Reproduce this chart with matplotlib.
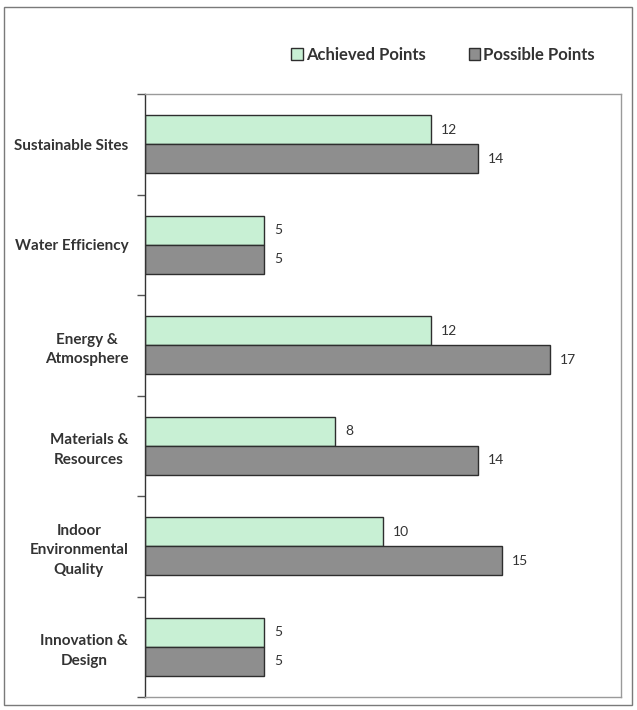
import matplotlib
matplotlib.use("Agg")
import matplotlib.pyplot as plt
from matplotlib.patches import Rectangle
import numpy as np

plt.rcParams['font.family'] = ['Lato', 'DejaVu Sans']

categories = ["Sustainable Sites", "Water Efficiency", "Energy &\nAtmosphere",
              "Materials &\nResources", "Indoor\nEnvironmental\nQuality",
              "Innovation &\nDesign"]
achieved = [12, 5, 12, 8, 10, 5]
possible = [14, 5, 17, 14, 15, 5]

GREEN = "#c8f0d4"
GRAY = "#8e8e8e"
EDGE = "#2e2e2e"

fig = plt.figure(figsize=(6.37, 7.10), dpi=100)
W, H = 637, 710

# outer frame around the whole chart
fig.patches.append(Rectangle((4 / W, 1 - 705 / H), 628 / W, 698 / H,
                             transform=fig.transFigure, fill=False,
                             edgecolor="#7a7a7a", linewidth=1.0))

ax = fig.add_axes([145 / W, 1 - 697 / H, 476 / W, 603 / H])

y = np.arange(len(categories))
bh = 0.29
ax.barh(y - bh / 2, achieved, height=bh, color=GREEN, edgecolor=EDGE,
        linewidth=1.0, label="Achieved Points")
ax.barh(y + bh / 2, possible, height=bh, color=GRAY, edgecolor=EDGE,
        linewidth=1.0, label="Possible Points")

for i, (a, p) in enumerate(zip(achieved, possible)):
    ax.text(a + 0.42, i - bh / 2, str(a), va="center", ha="left",
            fontsize=10, color="#333333")
    ax.text(p + 0.42, i + bh / 2, str(p), va="center", ha="left",
            fontsize=10, color="#333333")

ax.set_xlim(0, 20)
ax.set_ylim(len(categories) - 0.5, -0.5)
ax.set_xticks([])

# category labels sit between boundary ticks
ax.set_yticks(y)
ax.set_yticklabels(categories, fontsize=11, fontweight="bold",
                   color="#333333", multialignment="center", linespacing=1.5)
ax.tick_params(axis="y", which="major", length=0, pad=12)
ax.set_yticks(np.arange(-0.5, len(categories)), minor=True)
ax.tick_params(axis="y", which="minor", length=6, width=1.0, color="#555555")

for side in ("top", "right", "bottom"):
    ax.spines[side].set_color("#9a9a9a")
    ax.spines[side].set_linewidth(1.0)
ax.spines["left"].set_color("#333333")
ax.spines["left"].set_linewidth(1.0)

leg = fig.legend(loc="center", bbox_to_anchor=(443 / W, 1 - 55 / H), ncol=2,
                 frameon=False, fontsize=12, handlelength=0.7, handleheight=0.7,
                 handletextpad=0.15, columnspacing=2.6)
for t in leg.get_texts():
    t.set_fontweight("bold")
    t.set_color("#333333")

fig.savefig("out.png", dpi=100, facecolor="white")
